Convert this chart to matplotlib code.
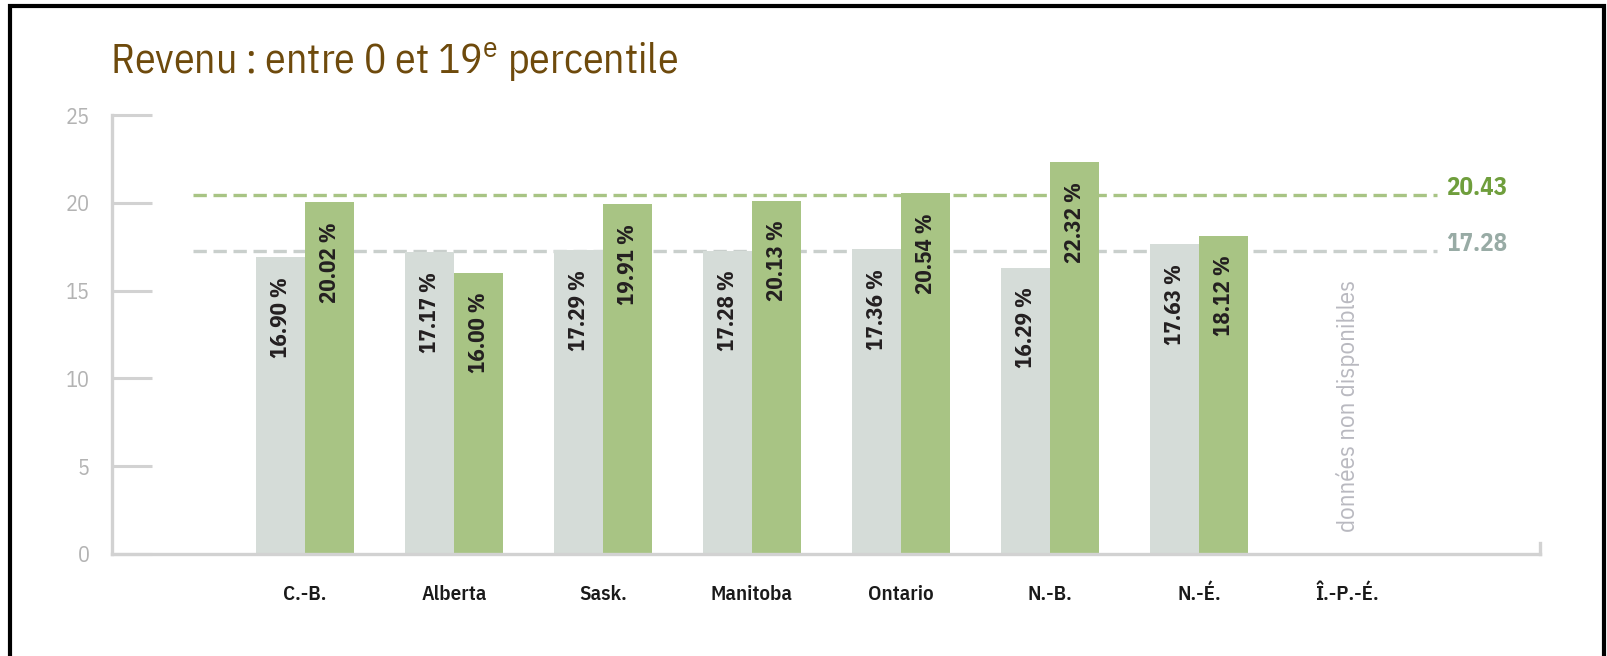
import numpy as np
import matplotlib
matplotlib.use("Agg")
import matplotlib.pyplot as plt
from matplotlib.patches import Rectangle

plt.rcParams['font.family'] = ['IBM Plex Sans Condensed', 'DejaVu Sans']
plt.rcParams['mathtext.fontset'] = 'custom'
plt.rcParams['mathtext.rm'] = 'IBM Plex Sans Condensed'

# data
provinces = ['C.-B.', 'Alberta', 'Sask.', 'Manitoba', 'Ontario', 'N.-B.', 'N.-É.', 'Î.-P.-É.']
serie_gris = [16.90, 17.17, 17.29, 17.28, 17.36, 16.29, 17.63, np.nan]
serie_verte = [20.02, 16.00, 19.91, 20.13, 20.54, 22.32, 18.12, np.nan]
moy_verte = 20.43
moy_gris = 17.28
sans_donnees = 'données non disponibles'
titre = 'Revenu : entre 0 et 19$^{\\rm e}$ percentile'

GRIS = '#d5dcd8'
VERT = '#a8c484'
AXE = '#d2d2d2'

fig = plt.figure(figsize=(16.08, 6.56), dpi=100)
ax = fig.add_axes([112/1608, 102/656, (1540-112)/1608, (554-115)/656])

x = np.arange(len(provinces))
w = 0.33
ax.bar(x - w/2, serie_gris, width=w, color=GRIS, zorder=2)
ax.bar(x + w/2, serie_verte, width=w, color=VERT, zorder=2)

# average lines
ax.hlines(moy_verte, -0.75, 7.6, colors=VERT, linewidth=2.4, linestyles=(0, (4, 2)), zorder=1)
ax.hlines(moy_gris, -0.75, 7.6, colors='#c9cfcc', linewidth=2.4, linestyles=(0, (4, 2)), zorder=1)
ax.text(7.66, moy_verte, f'{moy_verte:.2f}', color='#6f9e3c', fontsize=18, fontweight='bold',
        va='baseline', ha='left')
ax.text(7.66, moy_gris, f'{moy_gris:.2f}', color='#98aba5', fontsize=18, fontweight='bold',
        va='baseline', ha='left')

# value labels inside bars
for xi, v in zip(x - w/2, serie_gris):
    if not np.isnan(v):
        ax.annotate(f'{v:.2f} %', (xi, v), xytext=(0, -14), textcoords='offset points',
                    rotation=90, ha='center', va='top', fontsize=16.5, fontweight='bold', color='#231f20')
for xi, v in zip(x + w/2, serie_verte):
    if not np.isnan(v):
        ax.annotate(f'{v:.2f} %', (xi, v), xytext=(0, -14), textcoords='offset points',
                    rotation=90, ha='center', va='top', fontsize=16.5, fontweight='bold', color='#231f20')

ax.text(x[-1], 1.25, sans_donnees, rotation=90, ha='center', va='bottom', fontsize=18, color='#b9b9c0')

ax.set_xlim(-1.295, 8.29)
ax.set_ylim(0, 25)
ax.set_yticks([0, 5, 10, 15, 20, 25])
ax.set_xticks(x)
ax.set_xticklabels(provinces)

ax.spines['top'].set_visible(False)
for s in ['left', 'bottom', 'right']:
    ax.spines[s].set_color(AXE)
    ax.spines[s].set_linewidth(2.4)
ax.spines['right'].set_bounds(0, 0.6)

ax.tick_params(axis='y', direction='in', length=29, width=2.2, color=AXE, pad=16,
               labelsize=16, labelcolor='#b3b3b3')
ax.tick_params(axis='x', length=0, pad=22, labelsize=15, labelcolor='#1a1a1a')
for t in ax.get_xticklabels():
    t.set_fontweight('semibold')

fig.text(110/1608, 1 - 74/656, titre, color='#6e4a0c', fontsize=30, va='baseline', ha='left')

# black frame around the picture
fig.patches.append(Rectangle((10.5/1608, -0.1), (1604.5-10.5)/1608, 1.1 - 6/656,
                             transform=fig.transFigure, fill=False, edgecolor='black', linewidth=3))

fig.savefig('out.png', dpi=100)
